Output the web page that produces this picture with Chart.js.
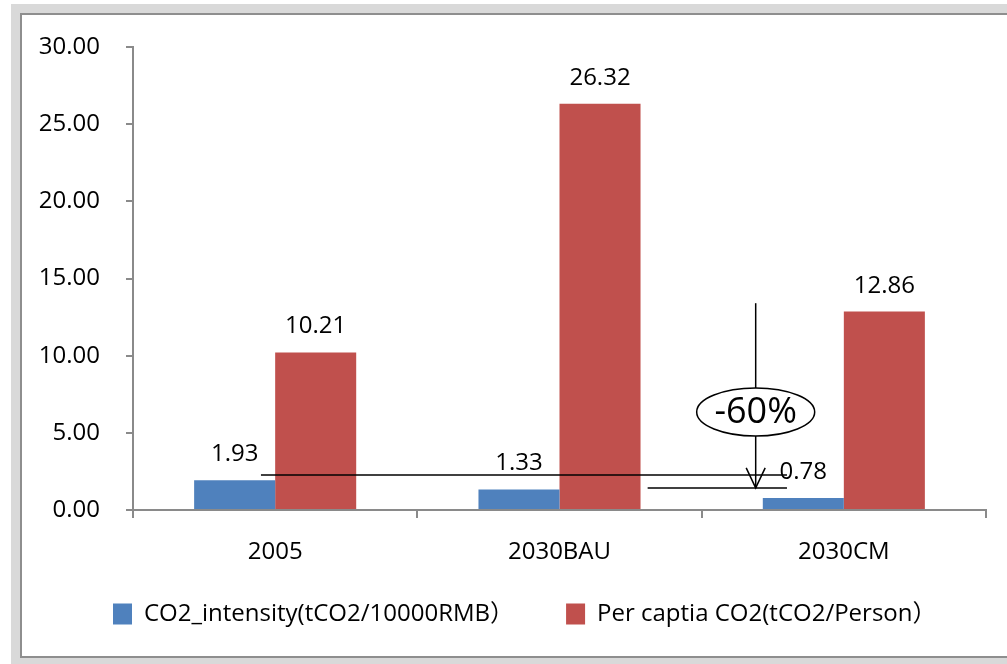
<!DOCTYPE html>
<html>
<head>
<meta charset="utf-8">
<script src="https://cdn.jsdelivr.net/npm/chart.js@4"></script>
<style>
  html, body { margin: 0; padding: 0; background: #ffffff; }
  #page { position: relative; width: 1007px; height: 664px; overflow: hidden; }
  #outer { position: absolute; left: 11px; top: 4px; width: 1000px; height: 664px; background: #d9d9d9; }
  #inner { position: absolute; left: 20px; top: 13px; width: 1000px; height: 641px;
           background: #ffffff; border-left: 2px solid #8e8e8e; border-top: 2px solid #8e8e8e; border-bottom: 2px solid #8e8e8e; }
  #chart { position: absolute; left: 0; top: 0; display: block; }
</style>
</head>
<body>
<div id="page">
  <div id="outer"></div>
  <div id="inner"></div>
  <canvas id="chart" width="1007" height="664"></canvas>
</div>
<script>
// Scenario categories and the two emission indicators
const categories = ['2005', '2030BAU', '2030CM'];
const intensityValues = [1.93, 1.33, 0.78];     // tCO2 per 10000 RMB
const perCapitaValues = [10.21, 26.32, 12.86];  // tCO2 per person
const seriesNames = ['CO2_intensity(tCO2/10000RMB）', 'Per captia CO2(tCO2/Person）'];
const yTicks = [0, 5, 10, 15, 20, 25, 30];

// Reduction callout, in data units (x as fractional category index)
const refLineA = { y: 2.27, from: -0.05, to: 1.80 };
const refLineB = { y: 1.43, from: 1.31, to: 1.80 };
const arrowX = 1.69;
const arrowTop = 13.4;
const badgeY = 6.35;
const badgeText = '-60%';

const FONT = "'Open Sans', 'Noto Sans CJK SC', sans-serif";
const AXIS_COLOR = '#8a8a8a';

function xAt(chart, v) {
  const x = chart.scales.x;
  const p0 = x.getPixelForValue(0);
  const p1 = x.getPixelForValue(1);
  return p0 + v * (p1 - p0);
}

const valueLabels = {
  id: 'valueLabels',
  afterDatasetsDraw(chart) {
    const ctx = chart.ctx;
    ctx.save();
    ctx.font = '24px ' + FONT;
    ctx.fillStyle = '#000000';
    ctx.textAlign = 'center';
    ctx.textBaseline = 'alphabetic';
    chart.data.datasets.forEach((ds, i) => {
      chart.getDatasetMeta(i).data.forEach((bar, j) => {
        ctx.fillText(ds.data[j].toFixed(2), bar.x, bar.y - 19);
      });
    });
    ctx.restore();
  }
};

const reductionCallout = {
  id: 'reductionCallout',
  afterDraw(chart) {
    const ctx = chart.ctx;
    const y = chart.scales.y;
    ctx.save();
    ctx.strokeStyle = '#000000';
    ctx.lineWidth = 1.5;
    // reference levels
    [refLineA, refLineB].forEach(l => {
      ctx.beginPath();
      ctx.moveTo(xAt(chart, l.from), y.getPixelForValue(l.y));
      ctx.lineTo(xAt(chart, l.to), y.getPixelForValue(l.y));
      ctx.stroke();
    });
    // vertical arrow down to the lower level
    const ax = xAt(chart, arrowX);
    const tipY = y.getPixelForValue(refLineB.y);
    ctx.beginPath();
    ctx.moveTo(ax, y.getPixelForValue(arrowTop));
    ctx.lineTo(ax, tipY);
    ctx.stroke();
    ctx.beginPath();
    ctx.moveTo(ax - 9.5, tipY - 20);
    ctx.lineTo(ax, tipY);
    ctx.lineTo(ax + 9.5, tipY - 20);
    ctx.stroke();
    // percentage badge
    const by = y.getPixelForValue(badgeY);
    ctx.beginPath();
    ctx.ellipse(ax, by, 59, 24, 0, 0, Math.PI * 2);
    ctx.fillStyle = '#ffffff';
    ctx.fill();
    ctx.stroke();
    ctx.fillStyle = '#000000';
    ctx.font = '36px ' + FONT;
    ctx.textAlign = 'center';
    ctx.textBaseline = 'middle';
    ctx.fillText(badgeText, ax, by + 1);
    ctx.restore();
  }
};

// Place the legend row: a wide item gap, slightly right of centre, close under the axis labels
const legendPlacement = {
  id: 'legendPlacement',
  afterLayout(chart) {
    const lg = chart.legend;
    if (!lg) return;
    const h = lg.bottom - lg.top;
    lg.left = 42.5;
    lg.right = 1007;
    lg.top = 550;
    lg.bottom = 550 + h;
  }
};

new Chart(document.getElementById('chart'), {
  type: 'bar',
  data: {
    labels: categories,
    datasets: [
      { label: seriesNames[0], data: intensityValues, backgroundColor: '#4f81bd', borderWidth: 0 },
      { label: seriesNames[1], data: perCapitaValues, backgroundColor: '#c0504d', borderWidth: 0 }
    ]
  },
  options: {
    responsive: false,
    animation: false,
    events: [],
    layout: { padding: { left: 0, right: 21, top: 47, bottom: 0 } },
    datasets: { bar: { categoryPercentage: 0.57, barPercentage: 1.0 } },
    scales: {
      x: {
        afterFit(axis) { axis.height = 68; },
        grid: { display: true, drawOnChartArea: false, offset: true, tickLength: 8, color: AXIS_COLOR, lineWidth: 2 },
        border: { display: true, color: AXIS_COLOR, width: 2 },
        ticks: { color: '#000000', font: { family: FONT, size: 24 }, padding: 20, maxRotation: 0 }
      },
      y: {
        min: 0, max: 30,
        afterFit(axis) { axis.width = 133; },
        afterBuildTicks(axis) { axis.ticks = yTicks.map(v => ({ value: v })); },
        grid: { display: true, drawOnChartArea: false, tickLength: 7, color: AXIS_COLOR, lineWidth: 2 },
        border: { display: true, color: AXIS_COLOR, width: 2 },
        ticks: { color: '#000000', font: { family: FONT, size: 24 }, padding: 26, callback: v => Number(v).toFixed(2) }
      }
    },
    plugins: {
      legend: {
        position: 'bottom',
        labels: { boxWidth: 19, boxHeight: 21, padding: 52, color: '#000000', font: { family: FONT, size: 24 } }
      },
      tooltip: { enabled: false },
      title: { display: false }
    }
  },
  plugins: [valueLabels, reductionCallout, legendPlacement]
});
</script>
</body>
</html>
